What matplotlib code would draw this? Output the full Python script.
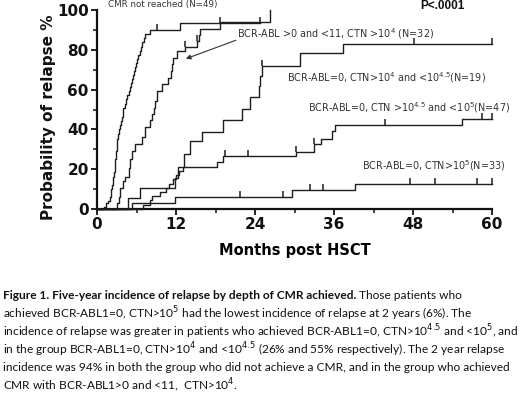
import numpy as np
import matplotlib
matplotlib.use("Agg")
import matplotlib.pyplot as plt

plt.rcParams['mathtext.fontset'] = 'custom'
plt.rcParams['mathtext.rm'] = 'DejaVu Sans'
plt.rcParams['mathtext.it'] = 'DejaVu Sans'
plt.rcParams['mathtext.bf'] = 'DejaVu Sans:bold'

# ---------------- data (months, cumulative % relapse) ----------------
c1_t = [1.0, 1.4, 1.7, 2.0, 2.1, 2.2, 2.3, 2.4, 2.5, 2.6, 2.7, 2.75, 2.8, 2.85, 2.9,
        3.0, 3.05, 3.1, 3.2, 3.35, 3.5, 3.6, 3.75, 3.9, 4.0, 4.2, 4.4, 4.6, 4.8, 5.0,
        5.15, 5.3, 5.45, 5.6, 5.8, 5.95, 6.1, 6.3, 6.5, 6.7, 6.9, 7.1, 7.3, 8.1, 12.6]
c1_v = [0.9, 2.9, 4.0, 6.1, 8.2, 10.2, 12.3, 14.3, 16.3, 18.4, 20.8, 22.8, 24.9, 26.9, 29.0,
        31.0, 33.1, 35.1, 37.8, 40.0, 42.0, 44.1, 46.1, 48.2, 51.0, 53.0, 55.1, 57.1, 59.2, 61.2,
        63.3, 65.3, 67.3, 69.4, 71.4, 73.5, 75.5, 77.6, 79.6, 81.6, 83.7, 85.7, 87.8, 89.8, 93.7]
c1_end = 24.8
c1_cens = [9.1, 18.7, 24.8]

c2_t = [3.0, 3.3, 3.5, 4.0, 4.3, 4.8, 5.0, 5.3, 5.8, 6.8, 7.3, 8.1, 8.4, 8.6, 8.8,
        9.1, 9.8, 10.8, 11.2, 11.4, 11.6, 12.1, 13.4, 15.2, 15.5, 15.7, 18.7, 26.3]
c2_v = [3.1, 6.2, 10.8, 13.9, 16.2, 20.8, 25.0, 29.0, 32.8, 36.0, 41.0, 44.5, 47.7, 50.8, 54.3,
        59.5, 62.7, 66.0, 69.5, 72.8, 76.0, 79.6, 81.2, 84.4, 87.5, 90.3, 94.0, 100.0]
c2_end = 26.3
c2_cens = [13.4, 15.2]

c3_t = [4.7, 6.5, 11.9, 12.3, 13.2, 14.2, 15.9, 19.2, 22.0, 23.3, 24.6, 24.8, 25.0, 30.9, 37.4]
c3_v = [5.3, 10.5, 15.8, 21.1, 27.5, 34.0, 38.6, 44.5, 50.3, 56.2, 62.0, 67.0, 72.1, 78.5, 82.8]
c3_end = 60.0
c3_cens = [25.0, 48.2, 60.0]

c4_t = [7.0, 8.0, 8.3, 9.5, 10.5, 11.0, 11.5, 12.0, 12.5, 13.1, 18.2, 19.2, 30.2, 32.9,
        34.1, 35.7, 36.2, 55.4]
c4_v = [2.1, 4.3, 6.4, 8.5, 10.6, 12.8, 14.9, 17.0, 19.1, 21.3, 23.4, 26.6, 28.7, 32.8,
        35.3, 39.4, 42.0, 45.3]
c4_end = 60.0
c4_cens = [19.5, 23.0, 30.2, 32.9, 43.8, 58.5, 60.0]

c5_t = [5.3, 11.9, 29.6, 39.2]
c5_v = [3.0, 6.1, 9.4, 12.8]
c5_end = 60.0
c5_cens = [21.7, 28.3, 32.4, 34.4, 47.6, 51.4, 57.7, 60.0]

x_ticks = [0, 12, 24, 36, 48, 60]
y_ticks = [0, 20, 40, 60, 80, 100]

caption_lines = [
    "achieved BCR-ABL1=0, CTN>10$^{5}$ had the lowest incidence of relapse at 2 years (6%). The",
    "incidence of relapse was greater in patients who achieved BCR-ABL1=0, CTN>10$^{4.5}$ and <10$^{5}$, and",
    "in the group BCR-ABL1=0, CTN>10$^{4}$ and <10$^{4.5}$ (26% and 55% respectively). The 2 year relapse",
    "incidence was 94% in both the group who did not achieve a CMR, and in the group who achieved",
    "CMR with BCR-ABL1>0 and <11,  CTN>10$^{4}$.",
]
caption_bold = "Figure 1. Five-year incidence of relapse by depth of CMR achieved."
caption_rest = " Those patients who"

# ---------------- figure ----------------
W, H = 520, 394
fig = plt.figure(figsize=(W / 100, H / 100), dpi=100)
ax = fig.add_axes([97 / W, 1 - 209 / H, (492 - 97) / W, (209 - 10) / H])

col = '#1e1e1e'
curves = [(c1_t, c1_v, c1_end, c1_cens), (c2_t, c2_v, c2_end, c2_cens),
          (c3_t, c3_v, c3_end, c3_cens), (c4_t, c4_v, c4_end, c4_cens),
          (c5_t, c5_v, c5_end, c5_cens)]
for t, v, end, cens in curves:
    tt = np.concatenate([[0], t, [end]])
    vv = np.concatenate([[0], v, [v[-1]]])
    ax.step(tt, vv, where='post', color=col, lw=1.0, clip_on=False, zorder=3)
    tarr = np.array(t)
    cv = [vv[np.searchsorted(tarr, c, side='right')] for c in cens]
    ax.plot(cens, cv, ls='none', marker=2, ms=4, mew=1.1, color=col, clip_on=False, zorder=3)

ax.set_xlim(0, 60)
ax.set_ylim(0, 100)
ax.set_xticks(x_ticks)
ax.set_yticks(y_ticks)
ax.set_xticks(np.arange(6, 60, 12), minor=True)
ax.set_yticks(np.arange(10, 100, 20), minor=True)
for s in ['top', 'right']:
    ax.spines[s].set_visible(False)
for s in ['left', 'bottom']:
    ax.spines[s].set_linewidth(1.6)
    ax.spines[s].set_color('#111111')
ax.tick_params(which='major', direction='out', length=4, width=1.3, pad=2, colors='#111111')
ax.tick_params(which='minor', direction='out', length=3, width=1.1, colors='#111111')
for lab in ax.get_xticklabels() + ax.get_yticklabels():
    lab.set_fontfamily('DejaVu Sans')
    lab.set_fontweight('bold')
    lab.set_fontsize(11)
ax.set_xlabel('Months post HSCT', family='DejaVu Sans', weight='bold', fontsize=10.5, labelpad=8)
fig.text(48.5 / W, 1 - 117.5 / H, 'Probability of relapse %', rotation=90, ha='center',
         va='center', family='DejaVu Sans', weight='bold', fontsize=11, color='#111111')

tc = '#333333'
fs = 6.9
lf = 'DejaVu Sans'
ax.text(10, 102.8, 'CMR not reached (N=49)', ha='center', va='center', fontsize=6.3,
        family=lf, color=tc, clip_on=False)
ax.text(49.1, 101.8, 'P<.0001', ha='left', va='center', fontsize=8.5,
        family='Liberation Sans', weight='bold', color='#111111', clip_on=False)
ax.text(21.2, 88, 'BCR-ABL >0 and <11, CTN >10$^{4}$ (N=32)', ha='left', va='center',
        fontsize=fs, family=lf, color=tc)
ax.annotate('', xy=(13.1, 75), xytext=(21.5, 85.3),
            arrowprops=dict(arrowstyle='-|>', color=tc, lw=0.8, mutation_scale=7))
ax.text(28.8, 66.2, 'BCR-ABL=0, CTN>10$^{4}$ and <10$^{4.5}$(N=19)', ha='left', va='center',
        fontsize=fs, family=lf, color=tc)
ax.text(32.1, 51.2, 'BCR-ABL=0, CTN >10$^{4.5}$ and <10$^{5}$(N=47)', ha='left', va='center',
        fontsize=fs, family=lf, color=tc)
ax.text(40.2, 21.9, 'BCR-ABL=0, CTN>10$^{5}$(N=33)', ha='left', va='center',
        fontsize=fs, family=lf, color=tc)

# ---------------- caption ----------------
cfs = 8.6
cfam = ['Lato', 'DejaVu Sans']
y0 = 295.5
dy = 18.0
t1 = fig.text(3 / W, 1 - y0 / H, caption_bold, ha='left', va='center', fontsize=cfs,
              family=cfam, weight='bold', color='#111111')
fig.canvas.draw()
bb = t1.get_window_extent(renderer=fig.canvas.get_renderer())
fig.text(bb.x1 / W, 1 - y0 / H, caption_rest, ha='left', va='center', fontsize=cfs,
         family=cfam, color='#111111')
for i, line in enumerate(caption_lines):
    fig.text(3 / W, 1 - (y0 + dy * (i + 1)) / H, line, ha='left', va='center',
             fontsize=cfs, family=cfam, color='#111111')

fig.savefig('out.png', dpi=100)
